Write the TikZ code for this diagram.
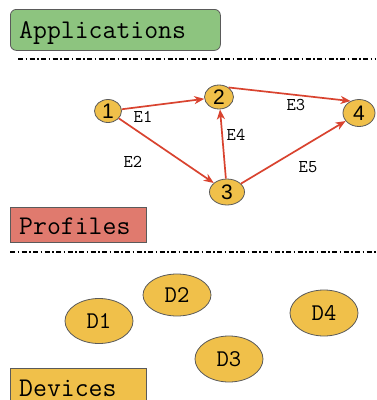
\documentclass[tikz,border=0pt]{standalone}
\usepackage{fontspec}
\setmainfont{Liberation Sans}
\usetikzlibrary{arrows.meta,shapes.geometric}
\definecolor{appgreen}{HTML}{8DC47F}
\definecolor{profred}{HTML}{E07A6E}
\definecolor{devyellow}{HTML}{F0C04A}
\definecolor{edgered}{HTML}{D9432F}
\definecolor{bordergray}{HTML}{5A5A5A}
\tikzset{
  layerbox/.style={draw=bordergray, line width=0.8pt, inner sep=0pt, anchor=north west},
  layertext/.style={font=\ttfamily\fontsize{27}{27}\selectfont, anchor=base west, inner sep=0pt},
  gnode/.style={ellipse, draw=bordergray, fill=devyellow, line width=0.8pt, inner sep=0pt,
    font=\fontsize{21}{21}\selectfont},
  dnode/.style={ellipse, draw=bordergray, fill=devyellow, line width=0.8pt, inner sep=0pt,
    minimum width=68pt, minimum height=45pt, font=\ttfamily\fontsize{24}{24}\selectfont},
  elabel/.style={font=\ttfamily\fontsize{18}{18}\selectfont, inner sep=0pt},
  edge/.style={draw=edgered, line width=1.7pt, -{Stealth[length=10pt,width=8pt,inset=3pt]}},
  sepline/.style={line width=1.5pt, dash pattern=on 5pt off 2.5pt on 1.5pt off 2.5pt}
}
\begin{document}
\begin{tikzpicture}[x=1pt,y=-1pt]
\clip (0,0) rectangle (376,400);
\fill[white] (0,0) rectangle (376,400);
% Applications layer
\node[layerbox, fill=appgreen, rounded corners=6pt, minimum width=210pt, minimum height=41pt] (appbox) at (10,9) {};
\node[layertext] (apptxt) at (19,38) {Applications};
\coordinate (s1a) at (18,59);
\coordinate (s1b) at (376,59);
\draw[sepline] (s1a) -- (s1b);
% graph
\node[gnode, minimum width=27pt, minimum height=23pt] (n1) at (108,111) {1};
\node[gnode, minimum width=29pt, minimum height=24pt] (n2) at (219,97) {2};
\node[gnode, minimum width=35pt, minimum height=26pt] (n3) at (227,192) {3};
\node[gnode, minimum width=32pt, minimum height=27pt] (n4) at (359,113) {4};
\draw[edge] (n1) -- (n2);
\draw[edge] (n2.45) -- (n4.125);
\draw[edge] (n1) -- (n3);
\draw[edge] (n3) -- (n2);
\draw[edge] (n3) -- (n4);
\node[elabel] (e1) at (143,117) {E1};
\node[elabel] (e2) at (133,162) {E2};
\node[elabel] (e3) at (296,105) {E3};
\node[elabel] (e4) at (236,135) {E4};
\node[elabel] (e5) at (308,167) {E5};
% Profiles layer
\node[layerbox, fill=profred, minimum width=136pt, minimum height=35pt] (profbox) at (10,207) {};
\node[layertext] (proftxt) at (19,234) {Profiles};
\coordinate (s2a) at (10,252);
\coordinate (s2b) at (376,252);
\draw[sepline] (s2a) -- (s2b);
% devices
\node[dnode] (d1) at (99,321) {D1};
\node[dnode, minimum height=42pt] (d2) at (177,295) {D2};
\node[dnode, minimum height=46pt] (d3) at (229,359) {D3};
\node[dnode, minimum height=46pt] (d4) at (324,313) {D4};
% Devices layer
\node[layerbox, fill=devyellow, minimum width=136pt, minimum height=45pt] (devbox) at (10,368) {};
\node[layertext] (devtxt) at (19,396) {Devices};
\end{tikzpicture}
\end{document}
